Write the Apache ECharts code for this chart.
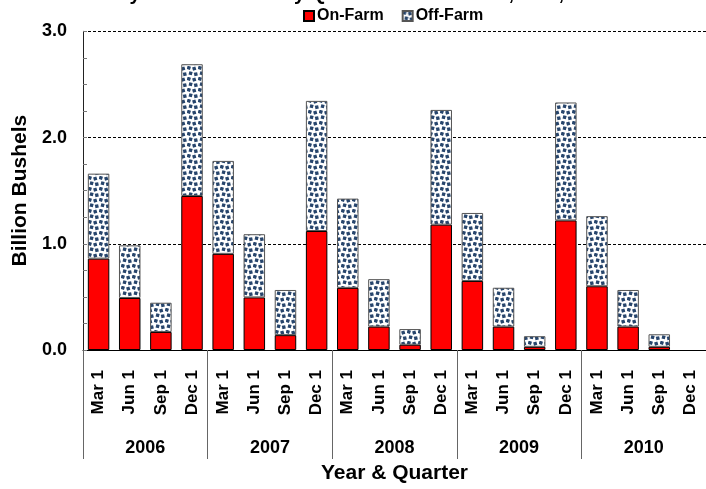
<!DOCTYPE html>
<html>
<head>
<meta charset="utf-8">
<script src="https://cdn.jsdelivr.net/npm/echarts@6/dist/echarts.min.js"></script>
<style>
html,body{margin:0;padding:0;background:#fff;}
#chart{width:706px;height:489px;}
</style>
</head>
<body>
<div id="chart"></div>
<script>
const quarters = ['Mar 1','Jun 1','Sep 1','Dec 1','Mar 1','Jun 1','Sep 1','Dec 1','Mar 1','Jun 1','Sep 1','Dec 1','Mar 1','Jun 1','Sep 1','Dec 1','Mar 1','Jun 1','Sep 1','Dec 1'];
const years = ['2006','2007','2008','2009','2010'];
const onFarm  = [0.86, 0.49, 0.17, 1.45, 0.905, 0.495, 0.14, 1.12, 0.585, 0.22, 0.05, 1.18, 0.65, 0.22, 0.03, 1.22, 0.60, 0.22, 0.03, null];
const offFarm = [0.80, 0.495, 0.275, 1.24, 0.875, 0.595, 0.425, 1.225, 0.84, 0.447, 0.147, 1.08, 0.64, 0.366, 0.10, 1.11, 0.66, 0.345, 0.118, null];
const yTicks = [0, 1, 2, 3];

const FONT = '"Liberation Sans", Arial, sans-serif';

// pattern tile for Off-Farm
const tile = document.createElement('canvas');
tile.width = 11; tile.height = 11;
const c = tile.getContext('2d');
c.fillStyle = '#ffffff';
c.fillRect(0, 0, 11, 11);
c.fillStyle = '#27456c';
const sq = [[1.8,1.8,0.3],[7.2,2.6,-0.3],[3.6,7.3,0.25],[8.8,8.2,-0.2]];
sq.forEach(function(s){
  c.save();
  c.translate(s[0], s[1]);
  c.rotate(s[2]);
  c.fillRect(-1.7, -1.7, 3.4, 3.4);
  c.restore();
});
const pattern = { image: tile, repeat: 'repeat' };

const chart = echarts.init(document.getElementById('chart'), null, {renderer: 'canvas'});
chart.setOption({
  animation: false,
  backgroundColor: '#fff',
  title: {
    text: 'Soybeans: Stocks by Quarter and Position, U.S., 2006-2010',
    left: 104, top: -16, padding: 0,
    textStyle: {fontFamily: FONT, fontWeight: 'bold', fontSize: 20, color: '#000'}
  },
  legend: {
    left: 303, top: 8, padding: 0,
    itemWidth: 10, itemHeight: 10, itemGap: 18,
    icon: 'rect',
    data: ['On-Farm', 'Off-Farm'],
    textStyle: {fontFamily: FONT, fontWeight: 'bold', fontSize: 16, color: '#000', padding: [0,0,0,-2]}
  },
  grid: {left: 83, right: -5, top: 31.3, bottom: 133.4, containLabel: false},
  xAxis: [
    {
      type: 'category', data: quarters, position: 'bottom',
      axisLine: {show: true, lineStyle: {color: '#000', width: 1}},
      axisTick: {show: false},
      axisLabel: {
        interval: 0, rotate: 90, margin: 20,
        fontFamily: FONT, fontWeight: 'bold', fontSize: 17, color: '#000'
      }
    },
    {
      type: 'category', data: years, position: 'bottom',
      axisLine: {show: false},
      axisTick: {show: true, length: 109, lineStyle: {color: '#666', width: 1}},
      axisLabel: {margin: 89, fontFamily: FONT, fontWeight: 'bold', fontSize: 18, color: '#000'},
      name: 'Year & Quarter', nameLocation: 'middle', nameGap: 113,
      nameTextStyle: {fontFamily: FONT, fontWeight: 'bold', fontSize: 21, color: '#000'}
    }
  ],
  yAxis: {
    type: 'value', min: yTicks[0], max: yTicks[yTicks.length-1], interval: 1,
    axisLine: {show: true, lineStyle: {color: '#222', width: 1}},
    axisTick: {show: true, inside: true, length: 4, lineStyle: {color: '#777'}},
    minorTick: {show: true, splitNumber: 4, length: 4, lineStyle: {color: '#777'}},
    axisLabel: {
      margin: 16, fontFamily: FONT, fontWeight: 'bold', fontSize: 18, color: '#000',
      formatter: function(v){ return v.toFixed(1); }
    },
    splitLine: {show: true, lineStyle: {color: '#000', type: [3, 2], width: 1}},
    name: 'Billion Bushels', nameLocation: 'middle', nameGap: 51,
    nameTextStyle: {fontFamily: FONT, fontWeight: 'bold', fontSize: 21, color: '#000'}
  },
  series: [
    {
      name: 'On-Farm', type: 'bar', stack: 's', xAxisIndex: 0, barWidth: '69%',
      data: onFarm,
      itemStyle: {color: '#ff0000', borderColor: '#000', borderWidth: 1}
    },
    {
      name: 'Off-Farm', type: 'bar', stack: 's', xAxisIndex: 0, barWidth: '69%',
      data: offFarm,
      itemStyle: {color: pattern, borderColor: '#555', borderWidth: 1}
    }
  ]
});
</script>
</body>
</html>
